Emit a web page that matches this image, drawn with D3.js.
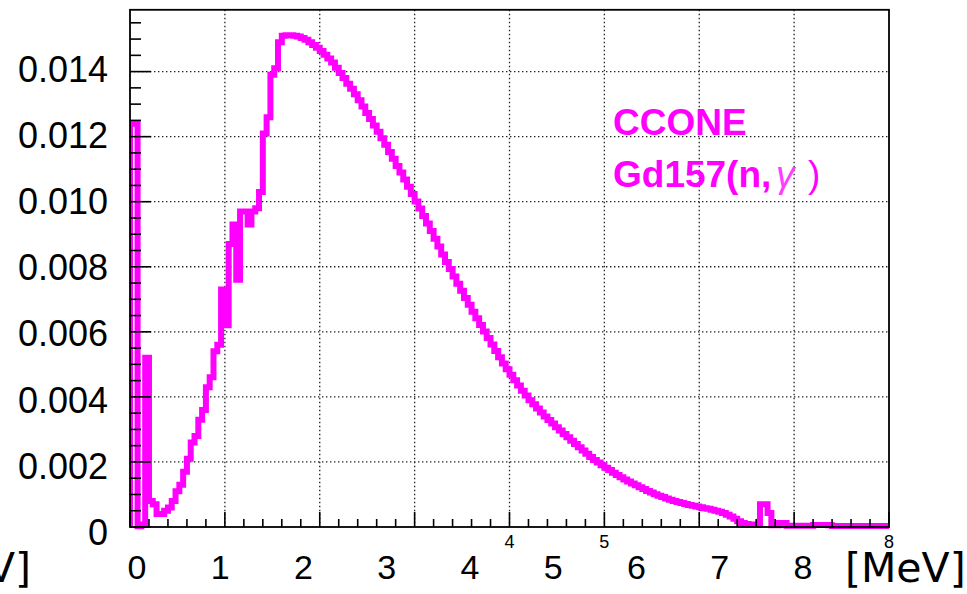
<!DOCTYPE html>
<html>
<head>
<meta charset="utf-8">
<script src="https://cdn.jsdelivr.net/npm/d3@7/dist/d3.min.js"></script>
<style>
  html, body { margin: 0; padding: 0; background: #fff; }
  svg { display: block; }
</style>
</head>
<body>
<svg id="chart" width="967" height="594"></svg>
<script>
// ---------------- data ----------------
const xMin = 0, xMax = 8;            // histogram range (axis units)
const binWidth = 0.04;               // 200 bins
const yMax = 0.0159;

const counts = [
  0.0124, 0.0124, 0.00002, 0.00008, 0.0052, 0.0008, 0.0007, 0.0004, 0.0004, 0.0005,
  0.0006, 0.0008, 0.0011, 0.0013, 0.0017, 0.0021, 0.0026, 0.0028, 0.0033, 0.0036,
  0.0043, 0.0046, 0.0054, 0.0056, 0.0073, 0.0062, 0.0087, 0.0093, 0.0076, 0.0097,
  0.0097, 0.0093, 0.0097, 0.0098, 0.0103, 0.0121, 0.0126, 0.0139, 0.0141, 0.0149,
  0.0151, 0.01512, 0.01512, 0.0151, 0.01508, 0.01503, 0.01498, 0.0149, 0.01482, 0.01473,
  0.01463, 0.01452, 0.0144, 0.01428, 0.01412, 0.01396, 0.0138, 0.01363, 0.01347, 0.0133,
  0.01312, 0.01293, 0.01273, 0.01254, 0.01234, 0.01215, 0.01195, 0.01175, 0.01153, 0.01132,
  0.0111, 0.0109, 0.01068, 0.01046, 0.01024, 0.01001, 0.00979, 0.00956, 0.00933, 0.0091,
  0.00886, 0.00862, 0.00838, 0.00815, 0.00793, 0.0077, 0.00748, 0.00726, 0.00704, 0.00683,
  0.00662, 0.00642, 0.00621, 0.00601, 0.00581, 0.00561, 0.00541, 0.00522, 0.00503, 0.00485,
  0.00468, 0.00451, 0.00435, 0.00419, 0.00404, 0.0039, 0.00377, 0.00364, 0.00352, 0.0034,
  0.00329, 0.00318, 0.00307, 0.00297, 0.00286, 0.00276, 0.00265, 0.00255, 0.00245, 0.00235,
  0.00225, 0.00215, 0.00206, 0.00198, 0.0019, 0.00182, 0.00175, 0.00167, 0.0016, 0.00153,
  0.00146, 0.0014, 0.00134, 0.00128, 0.00122, 0.00117, 0.00111, 0.00106, 0.00101, 0.00096,
  0.00092, 0.00088, 0.00084, 0.0008, 0.00077, 0.00074, 0.00071, 0.00068, 0.00065, 0.00063,
  0.00061, 0.00058, 0.00056, 0.00053, 0.0005, 0.00047, 0.00043, 0.00038, 0.00032, 0.00025,
  0.00018, 0.00012, 0.00009, 0.00008, 0.00008, 0.00008, 0.0007, 0.0007, 0.00043, 0.00005,
  0.00005, 0.00012, 0.00012, 0.00004, 0.00004, 0.00004, 0.00004, 0.00004, 0.00004, 0.00004,
  0.00006, 0.00006, 0.00006, 0.00006, 0.00005, 0.00003, 0.00003, 0.00003, 0.00003, 0.00003,
  0.00003, 0.00003, 0.00003, 0.00003, 0.00003, 0.00003, 0.00003, 0.00003, 0.00003, 0.00003
];

const yTickValues = [0, 0.002, 0.004, 0.006, 0.008, 0.010, 0.012, 0.014];
const yTickLabels = ["0", "0.002", "0.004", "0.006", "0.008", "0.010", "0.012", "0.014"];
const xMajorTicks = [0, 1, 2, 3, 4, 5, 6, 7, 8];
const xOverlayLabels = ["0", "1", "2", "3", "4", "5", "6", "7", "8"];
const xAxisSmallLabels = [4, 5, 8];
const unitLabel = "[MeV]";
const legendLine1 = "CCONE";
const legendLine2 = ["Gd157(n,", "\u03B3", ")"];

// ---------------- layout ----------------
const svg = d3.select("#chart");
const frame = { left: 130, right: 889, top: 9.8, bottom: 527 };

const x = d3.scaleLinear().domain([xMin, xMax]).range([frame.left, frame.right]);
const y = d3.scaleLinear().domain([0, yMax]).range([frame.bottom, frame.top]);
// overlay labels (pasted on the picture) use their own placement scales
const xLab = d3.scaleLinear().domain([0, 8]).range([137, 803]);
const yLab = d3.scaleLinear().domain([0, 0.014]).range([545, 81.7]);

svg.append("rect").attr("width", 967).attr("height", 594).attr("fill", "#fff");

// grid
const grid = svg.append("g").attr("stroke", "#222").attr("stroke-width", 1.3)
  .attr("stroke-dasharray", "1.4,2.6");
grid.selectAll("line.h").data(yTickValues.filter(v => v > 0)).join("line")
  .attr("x1", frame.left).attr("x2", frame.right)
  .attr("y1", d => y(d)).attr("y2", d => y(d));
grid.selectAll("line.v").data(xMajorTicks.filter(v => v > 0 && v < 8)).join("line")
  .attr("x1", d => x(d)).attr("x2", d => x(d))
  .attr("y1", frame.top).attr("y2", frame.bottom);

// histogram
svg.append("clipPath").attr("id", "clip").append("rect")
  .attr("x", frame.left).attr("y", 0).attr("width", frame.right - frame.left).attr("height", 540);

const pts = [[xMin, 0]];
counts.forEach((v, i) => {
  const lo = xMin + i * binWidth, hi = xMin + (i + 1) * binWidth;
  pts.push([lo, v], [hi, v]);
});
pts.push([xMax, 0]);

const line = d3.line().x(d => x(d[0])).y(d => y(d[1]));
svg.append("path").attr("clip-path", "url(#clip)")
  .attr("d", line(pts))
  .attr("fill", "none").attr("stroke", "#ff00ff").attr("stroke-width", 6)
  .attr("stroke-linejoin", "miter").attr("stroke-linecap", "butt");

// axes ticks (ROOT style, drawn inward)
const ax = svg.append("g").attr("stroke", "#000").attr("stroke-width", 1.6);
const xMinor = d3.range(0, 40 + 1).map(i => i * 0.2);
ax.selectAll("line.xt").data(xMinor).join("line")
  .attr("x1", d => x(d)).attr("x2", d => x(d))
  .attr("y1", frame.bottom)
  .attr("y2", d => frame.bottom - (Math.abs(d - Math.round(d)) < 1e-6 ? 15 : 8));
const yMinor = d3.range(0, 31 + 1).map(i => i * 0.0005);
ax.selectAll("line.yt").data(yMinor).join("line")
  .attr("y1", d => y(d)).attr("y2", d => y(d))
  .attr("x1", frame.left)
  .attr("x2", (d, i) => frame.left + (i % 4 === 0 ? 21 : 11));

// frame
svg.append("rect")
  .attr("x", frame.left).attr("y", frame.top)
  .attr("width", frame.right - frame.left).attr("height", frame.bottom - frame.top)
  .attr("fill", "none").attr("stroke", "#000").attr("stroke-width", 1.8);

// y tick labels
svg.append("g").selectAll("text").data(yTickValues).join("text")
  .attr("x", 108).attr("y", d => yLab(d))
  .attr("text-anchor", "end")
  .attr("font-family", "'Liberation Sans', Arial, sans-serif")
  .attr("font-size", 36).attr("fill", "#000")
  .text((d, i) => yTickLabels[i]);

// small ROOT axis labels still visible
svg.append("g").selectAll("text").data(xAxisSmallLabels).join("text")
  .attr("x", d => x(d)).attr("y", 548)
  .attr("text-anchor", "middle")
  .attr("font-family", "'Liberation Sans', Arial, sans-serif")
  .attr("font-size", 18).attr("fill", "#000")
  .text(d => d);

// overlay x labels
svg.append("g").selectAll("text").data(xOverlayLabels).join("text")
  .attr("x", (d, i) => xLab(i)).attr("y", 579)
  .attr("text-anchor", "middle")
  .attr("font-family", "'Liberation Sans', Arial, sans-serif")
  .attr("font-size", 34).attr("fill", "#000")
  .text(d => d);

// unit labels
svg.append("text").attr("x", 845).attr("y", 582)
  .attr("font-family", "'DejaVu Sans', Verdana, sans-serif")
  .attr("font-size", 41).attr("fill", "#000").text(unitLabel);
svg.append("text").attr("x", 31).attr("y", 582).attr("text-anchor", "end")
  .attr("font-family", "'DejaVu Sans', Verdana, sans-serif")
  .attr("font-size", 41).attr("fill", "#000").text(unitLabel);

// legend text
const lg = svg.append("g").attr("font-family", "'Liberation Sans', Arial, sans-serif")
  .attr("font-weight", "bold").attr("font-size", 37).attr("fill", "#ff00ff");
lg.append("text").attr("x", 613).attr("y", 135).text(legendLine1);
const t2 = lg.append("text").attr("x", 613).attr("y", 187);
t2.append("tspan").text(legendLine2[0]);
t2.append("tspan").attr("x", 776).attr("font-style", "italic").attr("font-weight", "normal")
  .attr("fill", "#ff3dff").text(legendLine2[1]);
t2.append("tspan").attr("x", 808).attr("font-weight", "normal").text(legendLine2[2]);
</script>
</body>
</html>
